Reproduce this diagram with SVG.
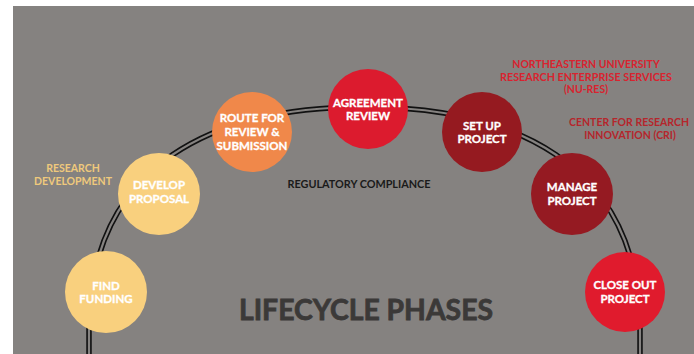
<svg xmlns="http://www.w3.org/2000/svg" width="694" height="354" viewBox="0 0 694 354">
<style>
.ph{fill:#fff;font-family:Lato,"Liberation Sans",sans-serif;font-weight:700;font-size:11.5px;text-anchor:middle;stroke:#fff;stroke-width:0.3px}
.lbl{font-family:Lato,"Liberation Sans",sans-serif;font-weight:700;font-size:10.5px;text-anchor:middle}
</style>
<rect x="0" y="0" width="694" height="354" fill="#ffffff"/>
<rect x="13" y="6" width="681" height="348" fill="#858280"/>
<g id="connectors">
<path d="M89,354 L89,330 C89,160 220,107 364,107 C508,107 640,160 640,330 L640,354" fill="none" stroke="#111" stroke-width="5.5"/>
<path d="M89,354 L89,330 C89,160 220,107 364,107 C508,107 640,160 640,330 L640,354" fill="none" stroke="#858280" stroke-width="2.2"/>
</g>
<g id="find-funding">
<circle cx="106" cy="292" r="41" fill="#F9D07E"/>
<text class="ph" x="106" y="290">FIND</text>
<text class="ph" x="106" y="303">FUNDING</text>
</g>
<g id="develop-proposal">
<circle cx="159" cy="194" r="41" fill="#F9D07E"/>
<text class="ph" x="159" y="189">DEVELOP</text>
<text class="ph" x="159" y="203">PROPOSAL</text>
</g>
<g id="route-review">
<circle cx="252" cy="132" r="40" fill="#F0884A"/>
<text class="ph" x="252" y="122">ROUTE FOR</text>
<text class="ph" x="252" y="136">REVIEW &amp;</text>
<text class="ph" x="252" y="150">SUBMISSION</text>
</g>
<g id="agreement-review">
<circle cx="368" cy="109" r="40" fill="#DC1B2E"/>
<text class="ph" x="368" y="107">AGREEMENT</text>
<text class="ph" x="368" y="120">REVIEW</text>
</g>
<g id="set-up-project">
<circle cx="482" cy="132" r="40" fill="#951A20"/>
<text class="ph" x="482" y="130">SET UP</text>
<text class="ph" x="482" y="143">PROJECT</text>
</g>
<g id="manage-project">
<circle cx="572" cy="194" r="41" fill="#951A22"/>
<text class="ph" x="572" y="191">MANAGE</text>
<text class="ph" x="572" y="205">PROJECT</text>
</g>
<g id="close-out-project">
<circle cx="625" cy="292" r="40" fill="#E01B2D"/>
<text class="ph" x="625" y="289">CLOSE OUT</text>
<text class="ph" x="625" y="303">PROJECT</text>
</g>
<g id="labels">
<text class="lbl" x="73" y="172" fill="#EFC97C">RESEARCH</text>
<text class="lbl" x="73" y="185" fill="#EFC97C">DEVELOPMENT</text>
<text class="lbl" x="586" y="68" fill="#D9232F">NORTHEASTERN UNIVERSITY</text>
<text class="lbl" x="586" y="81" fill="#D9232F" textLength="172" lengthAdjust="spacingAndGlyphs">RESEARCH ENTERPRISE SERVICES</text>
<text class="lbl" x="586" y="93" fill="#D9232F">(NU-RES)</text>
<text class="lbl" x="629" y="126" fill="#B5262C">CENTER FOR RESEARCH</text>
<text class="lbl" x="630" y="139" fill="#B5262C">INNOVATION (CRI)</text>
<text class="lbl" x="359" y="188" fill="#1a1a1a" textLength="143" lengthAdjust="spacingAndGlyphs">REGULATORY COMPLIANCE</text>
<text x="366" y="320" fill="#3b3938" stroke="#3b3938" stroke-width="0.8" font-family="Lato,'Liberation Sans',sans-serif" font-weight="700" font-size="28" text-anchor="middle" textLength="254" lengthAdjust="spacingAndGlyphs">LIFECYCLE PHASES</text>
</g>
</svg>
